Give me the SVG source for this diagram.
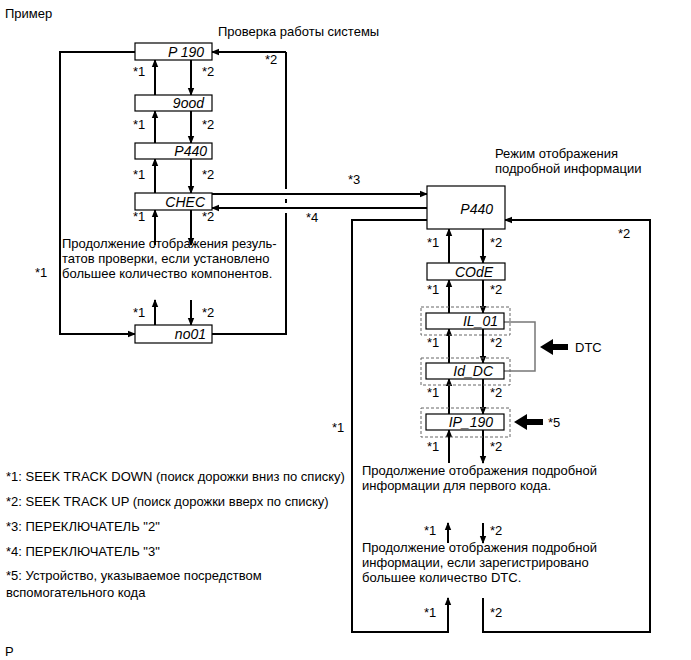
<svg xmlns="http://www.w3.org/2000/svg" width="691" height="660" viewBox="0 0 691 660">
<style>
.t{font-family:"Liberation Sans",Arial,sans-serif;font-size:13px;fill:#000}
.d{font-family:"Liberation Sans",Arial,sans-serif;font-size:14px;font-style:italic;fill:#000;text-anchor:end}
.box{fill:#fff;stroke:#000;stroke-width:1.2}
.dash{fill:none;stroke:#666;stroke-width:1;stroke-dasharray:3,2}
.ln{fill:none;stroke:#000;stroke-width:2}
.ar{fill:none;stroke:#000;stroke-width:2;marker-end:url(#ah)}
</style>
<defs>
<marker id="ah" markerUnits="userSpaceOnUse" markerWidth="8" markerHeight="8" refX="7" refY="4" orient="auto">
<path d="M0,0.8 L8,4 L0,7.2 z" fill="#000"/>
</marker>
</defs>
<rect width="691" height="660" fill="#fff"/>
<text class="t" x="5" y="18">Пример</text>
<text class="t" x="218" y="36">Проверка работы системы</text>
<text class="t" x="495" y="158">Режим отображения</text>
<text class="t" x="495" y="173">подробной информации</text>
<g id="connectors">
<path class="ar" d="M135,52 H60 V334 H135"/>
<path class="ln" d="M286,52 V189 M286,199 V203 M286,213 V334 H212"/>
<path class="ar" d="M286,52 H212"/>
<path class="ar" d="M155,95 V60"/><path class="ar" d="M191,60 V95"/>
<path class="ar" d="M155,143 V111"/><path class="ar" d="M191,111 V143"/>
<path class="ar" d="M155,193 V159"/><path class="ar" d="M191,159 V193"/>
<path class="ar" d="M155,245 V210"/><path class="ar" d="M191,210 V245"/>
<path class="ar" d="M155,325 V300"/><path class="ar" d="M191,300 V325"/>
<path class="ar" d="M212,194 H427"/>
<path class="ar" d="M427,208 H212"/>
<path class="ar" d="M427,220 H352 V632 H448 V598"/>
<path class="ar" d="M483,598 V632 H650 V220 H505"/>
<path class="ar" d="M449,263 V229"/><path class="ar" d="M483,229 V263"/>
<path class="ar" d="M449,313 V280"/><path class="ar" d="M483,280 V313"/>
<path class="ar" d="M449,363 V329"/><path class="ar" d="M483,329 V363"/>
<path class="ar" d="M449,414 V379"/><path class="ar" d="M483,379 V414"/>
<path class="ar" d="M449,463 V430"/><path class="ar" d="M483,430 V463"/>
<path class="ar" d="M448,543 V523"/><path class="ar" d="M483,523 V543"/>
<path d="M504,322 H535 V371 H504" fill="none" stroke="#777" stroke-width="1.5"/>
<polygon points="540,347 553,339 553,344 568,344 568,350 553,350 553,355" fill="#000"/>
<polygon points="514,422 527,414 527,419 543,419 543,425 527,425 527,430" fill="#000"/>
</g>
<g id="n-p190"><rect class="box" x="135" y="43" width="77" height="17"/><text class="d" x="204" y="57">P 190</text></g>
<g id="n-good"><rect class="box" x="135" y="95" width="77" height="16"/><text class="d" x="204" y="108">9ood</text></g>
<g id="n-p440a"><rect class="box" x="135" y="143" width="77" height="16"/><text class="d" x="207" y="156">P440</text></g>
<g id="n-chec"><rect class="box" x="135" y="193" width="77" height="17"/><text class="d" x="205" y="207">CHEC</text></g>
<g id="n-no01"><rect class="box" x="135" y="325" width="77" height="18"/><text class="d" x="206" y="339">no01</text></g>
<g id="n-p440b"><rect class="box" x="427" y="186" width="78" height="43"/><text class="d" x="493" y="214">P440</text></g>
<g id="n-code"><rect class="box" x="427" y="263" width="78" height="17"/><text class="d" x="493" y="277">COdE</text></g>
<g id="n-il01"><rect class="dash" x="421" y="307" width="89" height="28"/><rect class="box" x="426" y="313" width="78" height="16"/><text class="d" x="498" y="326">IL_01</text></g>
<g id="n-iddc"><rect class="dash" x="421" y="358" width="89" height="27"/><rect class="box" x="426" y="363" width="78" height="16"/><text class="d" x="493" y="376">Id_DC</text></g>
<g id="n-ip190"><rect class="dash" x="421" y="408" width="89" height="29"/><rect class="box" x="426" y="414" width="78" height="16"/><text class="d" x="493" y="427">IP_190</text></g>
<g id="labels">
<text class="t" x="265" y="64">*2</text>
<text class="t" x="133" y="76">*1</text><text class="t" x="202" y="76">*2</text>
<text class="t" x="133" y="129">*1</text><text class="t" x="202" y="129">*2</text>
<text class="t" x="133" y="179">*1</text><text class="t" x="202" y="179">*2</text>
<text class="t" x="133" y="221">*1</text><text class="t" x="202" y="221">*2</text>
<text class="t" x="133" y="317">*1</text><text class="t" x="202" y="317">*2</text>
<text class="t" x="35" y="277">*1</text>
<text class="t" x="348" y="184">*3</text>
<text class="t" x="306" y="222">*4</text>
<text class="t" x="618" y="238">*2</text>
<text class="t" x="427" y="247">*1</text><text class="t" x="490" y="247">*2</text>
<text class="t" x="427" y="294">*1</text><text class="t" x="490" y="294">*2</text>
<text class="t" x="427" y="347">*1</text><text class="t" x="490" y="347">*2</text>
<text class="t" x="427" y="397">*1</text><text class="t" x="490" y="397">*2</text>
<text class="t" x="427" y="451">*1</text><text class="t" x="490" y="451">*2</text>
<text class="t" x="424" y="535">*1</text><text class="t" x="490" y="535">*2</text>
<text class="t" x="424" y="617">*1</text><text class="t" x="490" y="617">*2</text>
<text class="t" x="332" y="432">*1</text>
<text class="t" x="575" y="352">DTC</text>
<text class="t" x="548" y="427">*5</text>
<text class="t" x="62" y="248">Продолжение отображения резуль-</text>
<text class="t" x="62" y="263">татов проверки, если установлено</text>
<text class="t" x="62" y="278">большее количество компонентов.</text>
<text class="t" x="362" y="475">Продолжение отображения подробной</text>
<text class="t" x="362" y="490">информации для первого кода.</text>
<text class="t" x="362" y="552">Продолжение отображения подробной</text>
<text class="t" x="362" y="567">информации, если зарегистрировано</text>
<text class="t" x="362" y="582">большее количество DTC.</text>
<text class="t" x="6" y="481">*1: SEEK TRACK DOWN (поиск дорожки вниз по списку)</text>
<text class="t" x="6" y="506">*2: SEEK TRACK UP (поиск дорожки вверх по списку)</text>
<text class="t" x="6" y="531">*3: ПЕРЕКЛЮЧАТЕЛЬ "2"</text>
<text class="t" x="6" y="556">*4: ПЕРЕКЛЮЧАТЕЛЬ "3"</text>
<text class="t" x="6" y="580">*5: Устройство, указываемое посредством</text>
<text class="t" x="6" y="597">вспомогательного кода</text>
<text class="t" x="5" y="656">P</text>
</g>
</svg>
